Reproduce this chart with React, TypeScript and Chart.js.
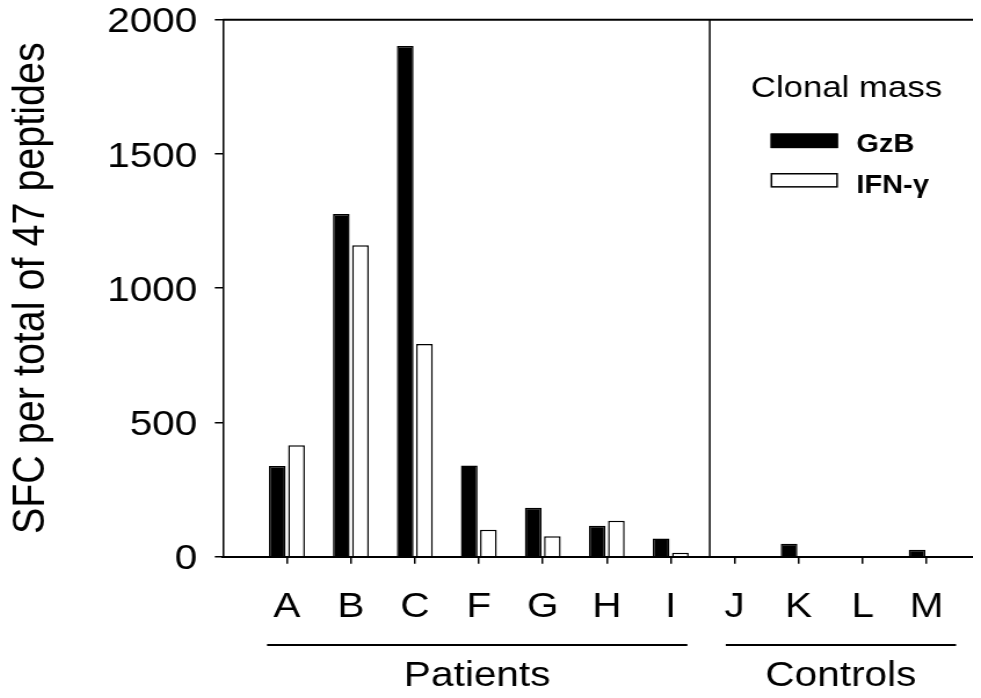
import React, { useEffect, useRef } from 'react';
import { Chart, registerables } from 'chart.js';

Chart.register(...registerables);

// ---- data ----
const categories = ['A', 'B', 'C', 'F', 'G', 'H', 'I', 'J', 'K', 'L', 'M'];
const gzbValues = [338, 1276, 1902, 340, 182, 115, 68, 0, 48, 0, 26];
const ifnValues = [415, 1160, 792, 100, 76, 134, 15, 0, 0, 0, 0];
const yTickValues = [0, 500, 1000, 1500, 2000];
const seriesLabels = ['GzB', 'IFN-γ'];
const groupLabels = ['Patients', 'Controls'];
const legendTitle = 'Clonal mass';
const yTitle = 'SFC per total of 47 peptides';

// ---- layout (internal canvas units; canvas is stretched horizontally) ----
const FONT = '"Liberation Sans", Arial, Helvetica, sans-serif';
const CSS_W = 973;
const CSS_H = 690;
const STRETCH = 1.16;
const W = Math.round(CSS_W / STRETCH);
const H = CSS_H;
const X_MAX = 11.85;
const DIVIDER_AT = 7.61;
const GROUP_SPANS: [number, number][] = [
  [0.69, 7.26],
  [7.86, 11.46],
];
const GROUP_LINE_Y = 637;
const GROUP_TEXT_Y = 678;
const TICK_LEN = 7;
const Y_LABEL_PAD = 15;
const Y_LABEL_SHIFT = 3;
const TICK_FONT = 35;

const overlayPlugin = {
  id: 'overlay',
  afterDraw(chart: any) {
    const { ctx, chartArea: ca, scales } = chart;
    const xs = scales.x;
    const ys = scales.y;
    ctx.save();
    ctx.strokeStyle = '#000';
    ctx.fillStyle = '#000';

    // y tick labels
    ctx.font = `${TICK_FONT}px ${FONT}`;
    ctx.textAlign = 'right';
    ctx.textBaseline = 'middle';
    ys.ticks.forEach((t: any) => {
      ctx.fillText(String(t.value), ca.left - TICK_LEN - Y_LABEL_PAD, ys.getPixelForValue(t.value) + Y_LABEL_SHIFT);
    });

    // top frame line
    ctx.lineWidth = 2;
    ctx.beginPath();
    ctx.moveTo(ca.left, ca.top);
    ctx.lineTo(ca.right, ca.top);
    ctx.stroke();

    // divider between patients and controls
    const dx = xs.getPixelForValue(DIVIDER_AT);
    ctx.lineWidth = 1.5;
    ctx.beginPath();
    ctx.moveTo(dx, ca.top);
    ctx.lineTo(dx, ca.bottom);
    ctx.stroke();

    // group brackets + labels
    ctx.font = `${TICK_FONT}px ${FONT}`;
    ctx.textAlign = 'center';
    ctx.textBaseline = 'alphabetic';
    GROUP_SPANS.forEach(([a, b], i) => {
      const x1 = xs.getPixelForValue(a);
      const x2 = xs.getPixelForValue(b);
      ctx.lineWidth = 2;
      ctx.beginPath();
      ctx.moveTo(x1, GROUP_LINE_Y);
      ctx.lineTo(x2, GROUP_LINE_Y);
      ctx.stroke();
      ctx.fillText(groupLabels[i], (x1 + x2) / 2, GROUP_TEXT_Y);
    });

    // legend
    ctx.font = `30px ${FONT}`;
    ctx.textAlign = 'center';
    ctx.fillText(legendTitle, 723, 88.7);
    ctx.font = `bold 25px ${FONT}`;
    ctx.textAlign = 'left';
    chart.data.datasets.forEach((ds: any, i: number) => {
      const by = 125.5 + i * 39.5;
      ctx.fillStyle = ds.backgroundColor;
      ctx.fillRect(657.6, by, 58, 14.6);
      ctx.lineWidth = 1.5;
      ctx.strokeStyle = '#000';
      ctx.strokeRect(658.3, by + 0.75, 56.6, 13.1);
      ctx.fillStyle = '#000';
      ctx.fillText(ds.label, 731.6, 143.7 + i * 41);
    });
    ctx.restore();
  },
};

export default function App() {
  const ref = useRef<HTMLCanvasElement>(null);

  useEffect(() => {
    if (!ref.current) return;
    Chart.defaults.font.family = FONT;
    Chart.defaults.color = '#000';
    const chart = new Chart(ref.current, {
      type: 'bar',
      data: {
        datasets: [
          {
            label: seriesLabels[0],
            data: gzbValues.map((v, i) => ({ x: i + 1, y: v })),
            backgroundColor: '#000',
            borderColor: '#000',
            borderWidth: 1.5,
          },
          {
            label: seriesLabels[1],
            data: ifnValues.map((v, i) => ({ x: i + 1, y: v })),
            backgroundColor: '#fff',
            borderColor: '#000',
            borderWidth: 1.5,
          },
        ],
      },
      options: {
        responsive: false,
        devicePixelRatio: 1,
        animation: false,
        layout: { padding: { top: 11.7, left: 0, right: 0, bottom: 0 } },
        plugins: {
          legend: { display: false },
          tooltip: { enabled: false },
          title: { display: false },
        },
        datasets: { bar: { categoryPercentage: 0.6, barPercentage: 0.87 } },
        scales: {
          x: {
            type: 'linear',
            min: 0,
            max: X_MAX,
            offset: false,
            grid: {
              display: true,
              drawOnChartArea: false,
              drawTicks: true,
              tickLength: TICK_LEN,
              color: '#000',
              tickColor: '#000',
              lineWidth: 1.5,
              offset: false,
            },
            border: { display: true, color: '#000', width: 2 },
            ticks: {
              font: { size: TICK_FONT, family: FONT },
              color: '#000',
              padding: 23,
              autoSkip: false,
              maxRotation: 0,
              callback: (v: any) => categories[Number(v) - 1] ?? '',
            },
            afterBuildTicks: (s: any) => {
              s.ticks = categories.map((_, i) => ({ value: i + 1 }));
            },
            afterFit: (s: any) => {
              s.height = H - 548.7;
              s.paddingLeft = 0;
              s.paddingRight = 0;
            },
          },
          y: {
            min: 0,
            max: 2000,
            ticks: {
              display: false,
              stepSize: 500,
              font: { size: TICK_FONT, family: FONT },
              color: '#000',
              padding: Y_LABEL_PAD,
              callback: (v: any) => String(v),
            },
            afterBuildTicks: (s: any) => {
              s.ticks = yTickValues.map((v) => ({ value: v }));
            },
            grid: {
              drawOnChartArea: false,
              drawTicks: true,
              tickLength: TICK_LEN,
              color: '#000',
              tickColor: '#000',
              lineWidth: 1.5,
            },
            border: { display: true, color: '#000', width: 1.5 },
            title: {
              display: true,
              text: yTitle,
              color: '#000',
              font: { size: 39.5, family: FONT, lineHeight: 1 },
              padding: { top: 0, bottom: 0 },
            },
            afterFit: (s: any) => {
              s.width = 185.3;
              s.paddingTop = 0;
              s.paddingBottom = 0;
            },
          },
        },
      } as any,
      plugins: [overlayPlugin],
    });
    return () => chart.destroy();
  }, []);

  return (
    <div style={{ width: CSS_W, height: CSS_H, overflow: 'hidden' }}>
      <canvas
        ref={ref}
        width={W}
        height={H}
        style={{ width: `${CSS_W}px`, height: `${CSS_H}px`, display: 'block' }}
      />
    </div>
  );
}
